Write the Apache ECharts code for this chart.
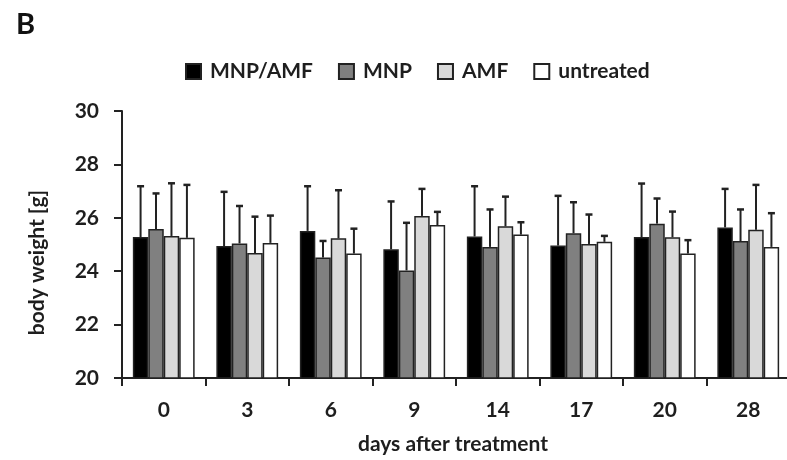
<!DOCTYPE html>
<html>
<head>
<meta charset="utf-8">
<script src="https://cdn.jsdelivr.net/npm/echarts@6/dist/echarts.min.js"></script>
<style>
  html, body { margin: 0; padding: 0; background: #fff; }
  #chart { width: 787px; height: 460px; }
</style>
</head>
<body>
<div id="chart"></div>
<script>
// ---- data ----
const categories = ['0', '3', '6', '9', '14', '17', '20', '28'];
const seriesNames = ['MNP/AMF', 'MNP', 'AMF', 'untreated'];
const meanMNPAMF   = [25.28, 24.94, 25.51, 24.82, 25.30, 24.96, 25.28, 25.64];
const meanMNP      = [25.58, 25.04, 24.51, 24.03, 24.91, 25.42, 25.78, 25.13];
const meanAMF      = [25.32, 24.68, 25.23, 26.07, 25.68, 25.02, 25.27, 25.55];
const meanUntreated= [25.25, 25.06, 24.66, 25.73, 25.37, 25.10, 24.66, 24.91];
const sdMNPAMF     = [1.94, 2.07, 1.71, 1.83, 1.92, 1.90, 2.04, 1.48];
const sdMNP        = [1.37, 1.44, 0.66, 1.82, 1.44, 1.20, 0.98, 1.22];
const sdAMF        = [2.01, 1.40, 1.84, 1.05, 1.15, 1.14, 1.00, 1.72];
const sdUntreated  = [2.02, 1.06, 0.97, 0.53, 0.50, 0.26, 0.54, 1.30];
const yTicks = [20, 22, 24, 26, 28, 30];

const means = [meanMNPAMF, meanMNP, meanAMF, meanUntreated];
const sds = [sdMNPAMF, sdMNP, sdAMF, sdUntreated];
const fills = ['#000000', '#808080', '#d9d9d9', '#ffffff'];
const CAT_GAP = 0.26;
const FONT = 'Lato';
const TXT = '#1e1e1e';
const FS = 21;

const chart = echarts.init(document.getElementById('chart'), null, { renderer: 'canvas' });

const series = [];
means.forEach((m, i) => {
  series.push({
    name: seriesNames[i],
    type: 'bar',
    data: m,
    barGap: '0%',
    barCategoryGap: (CAT_GAP * 100) + '%',
    itemStyle: { color: fills[i], borderColor: '#222', borderWidth: 1.5 },
    emphasis: { disabled: true },
    z: 2
  });
});
means.forEach((m, i) => {
  series.push({
    name: 'err' + i,
    type: 'custom',
    z: 3,
    silent: true,
    data: m.map((v, k) => [k, v, v + sds[i][k]]),
    renderItem: function (params, api) {
      const k = api.value(0);
      const lo = api.coord([k, api.value(1)]);
      const hi = api.coord([k, api.value(2)]);
      const band = api.size([1, 0])[0];
      const bw = band * (1 - CAT_GAP) / 4;
      const x = lo[0] + (i - 1.5) * bw;
      const capW = 7;
      return {
        type: 'group',
        children: [
          { type: 'line', shape: { x1: x, y1: lo[1], x2: x, y2: hi[1] + 1 },
            style: { stroke: '#222', lineWidth: 2 } },
          { type: 'line', shape: { x1: x - capW / 2, y1: hi[1] + 1, x2: x + capW / 2, y2: hi[1] + 1 },
            style: { stroke: '#222', lineWidth: 2.5 } }
        ]
      };
    }
  });
});

const option = {
  animation: false,
  backgroundColor: '#fff',
  title: {
    text: 'B', left: 11, top: 5,
    textStyle: { fontFamily: FONT, fontWeight: 'bold', fontSize: 29, color: '#111' }
  },
  legend: {
    data: seriesNames,
    left: 185, top: 61, padding: 0,
    itemWidth: 15, itemHeight: 15, itemGap: 25,
    icon: 'rect',
    textStyle: { fontFamily: FONT, fontWeight: 'bold', fontSize: FS, color: TXT, padding: [0, 0, 0, 4] }
  },
  grid: { left: 122, top: 111, width: 668, height: 267, outerBoundsMode: 'none', containLabel: false },
  xAxis: {
    type: 'category',
    data: categories,
    name: 'days after treatment',
    nameLocation: 'middle',
    nameGap: 56,
    nameTextStyle: { fontFamily: FONT, fontWeight: 'bold', fontSize: FS, color: TXT, padding: [0, 0, 0, -6] },
    axisLine: { lineStyle: { color: '#222', width: 2 } },
    axisTick: { show: true, length: 8, inside: false, lineStyle: { color: '#222', width: 2 } },
    axisLabel: { fontFamily: FONT, fontWeight: 'bold', fontSize: FS, color: TXT, margin: 22 },
    splitLine: { show: false }
  },
  yAxis: {
    type: 'value',
    min: yTicks[0], max: yTicks[yTicks.length - 1], interval: 2,
    name: 'body weight [g]',
    nameLocation: 'middle',
    nameRotate: 90,
    nameGap: 74,
    nameTextStyle: { fontFamily: FONT, fontWeight: 'bold', fontSize: FS, color: TXT, padding: [0, 0, 0, -36] },
    axisLine: { show: true, lineStyle: { color: '#222', width: 2 } },
    axisTick: { show: true, length: 8, inside: false, lineStyle: { color: '#222', width: 2 } },
    axisLabel: { fontFamily: FONT, fontWeight: 'bold', fontSize: FS, color: TXT, margin: 23 },
    splitLine: { show: false }
  },
  series: series
};
chart.setOption(option);
</script>
</body>
</html>
